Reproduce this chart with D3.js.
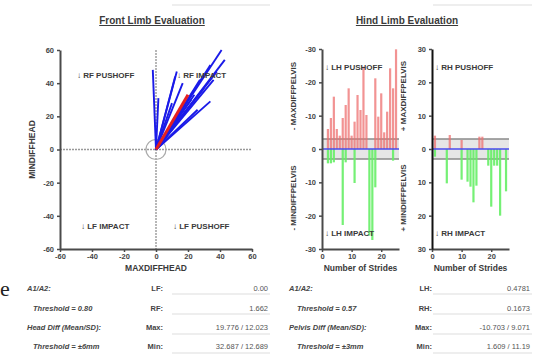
<!DOCTYPE html>
<html><head><meta charset="utf-8">
<script src="https://cdn.jsdelivr.net/npm/d3@7"></script>
<style>
html,body{margin:0;padding:0;background:#fff;}
svg{display:block;font-family:"Liberation Sans",Arial,sans-serif;}
</style></head>
<body>
<svg id="c" width="553" height="359"></svg>
<script>
// ---- Front limb data (end points of vectors from origin) ----
const frontX = [-2, 1.5, 13, 16.7, 41, 43, 34, 27.5, 34, 26, 38, 22, 30, 18, 10, 12, 24, 36];
const frontY = [48, 31, 47, 40, 60, 54, 51, 42, 29, 24, 47, 30, 37, 22, 28, 44, 33, 42];
const frontMeanX = [20];
const frontMeanY = [33];
const frontTicks = [-60, -40, -20, 0, 20, 40, 60];

// ---- Hind limb data (per stride) ----
const strides = d3.range(1, 26);
const lhPushoff = [0, 6, 9.3, 15.7, 6, 4, 9.3, 13.2, 18.2, 4, 8.2, 16.2, 11.7, 24.7, 10.2, 0, 0, 21.2, 9.7, 16.7, 5, 11.2, 24.2, 18.2, 29.9];
const lhImpact  = [0, 4.3, 4.3, 4, 0, 0, 22.8, 4, 0, 0, 10.2, 0, 0, 0, 0, 26, 27.3, 11.5, 0, 0, 0, 0, 0, 3.5, 0];
const rhPushoff = [4, 0, 0, 0, 0, 4.2, 0, 0, 0, 2.7, 0, 0, 0, 0, 0, 3.7, 3.7, 0, 0, 0, 0, 0, 0, 0, 0];
const rhImpact  = [2.3, 0, 0, 0, 10.3, 0, 0, 0, 0, 9.2, 0, 9.8, 11.3, 16, 11, 0, 0, 0, 5, 17.3, 5, 5, 20, 0, 12.7];
const hindTicks = [-30, -20, -10, 0, 10, 20, 30];
const strideTicks = [0, 10, 20];
const threshold = 3;

// ---- Table text ----
const leftRowsL = ["A1/A2:", "Threshold = 0.80", "Head Diff (Mean/SD):", "Threshold = \u00b16mm"];
const leftKeys = ["LF:", "RF:", "Max:", "Min:"];
const leftVals = ["0.00", "1.662", "19.776 / 12.023", "32.687 / 12.689"];
const rightRowsL = ["A1/A2:", "Threshold = 0.57", "Pelvis Diff (Mean/SD):", "Threshold = \u00b13mm"];
const rightKeys = ["LH:", "RH:", "Max:", "Min:"];
const rightVals = ["0.4781", "0.1673", "-10.703 / 9.071", "1.609 / 11.19"];

const svg = d3.select("#c");
const txt = "#3a3a3a";

// faint top remnants
svg.append("line").attr("x1",172).attr("x2",270).attr("y1",5).attr("y2",5).attr("stroke","#eee").attr("stroke-width",2);
svg.append("line").attr("x1",433).attr("x2",532).attr("y1",5).attr("y2",5).attr("stroke","#eee").attr("stroke-width",2);

function styleAxis(g){
  g.select(".domain").attr("stroke","#4a4a4a").attr("stroke-width",2);
  g.selectAll(".tick line").attr("stroke","#4a4a4a").attr("stroke-width",1.5);
  g.selectAll(".tick text").attr("fill","#444").attr("font-size","7.5px").attr("font-weight","bold");
}
const hy = d => String(d);

// ================= FRONT LIMB =================
const xF = d3.scaleLinear().domain([-60,60]).range([60,252]);
const yF = d3.scaleLinear().domain([-60,60]).range([249,50]);

svg.append("text").attr("x",152).attr("y",24).attr("text-anchor","middle")
  .attr("font-size","10px").attr("font-weight","bold").attr("fill",txt)
  .attr("text-decoration","underline").text("Front Limb Evaluation");

// zero lines
svg.append("line").attr("x1",xF(0)).attr("x2",xF(0)).attr("y1",yF(60)).attr("y2",yF(-60))
  .attr("stroke","#888").attr("stroke-width",1.2).attr("stroke-dasharray","2,1");
svg.append("line").attr("x1",xF(-60)).attr("x2",xF(60)).attr("y1",yF(0)).attr("y2",yF(0))
  .attr("stroke","#999").attr("stroke-width",1.6).attr("stroke-dasharray","2,1");

// circle
svg.append("circle").attr("cx",xF(0)).attr("cy",yF(0)).attr("r",10)
  .attr("fill","none").attr("stroke","#aaa").attr("stroke-width",1.2);

// vectors
svg.append("g").selectAll("line").data(frontX).join("line")
  .attr("x1",xF(0)).attr("y1",yF(0))
  .attr("x2",(d)=>xF(d)).attr("y2",(d,i)=>yF(frontY[i]))
  .attr("stroke","#1a1ae8").attr("stroke-width",1.9);
svg.append("g").selectAll("line").data(frontMeanX).join("line")
  .attr("x1",xF(0)).attr("y1",yF(0))
  .attr("x2",(d)=>xF(d)).attr("y2",(d,i)=>yF(frontMeanY[i]))
  .attr("stroke","#e52020").attr("stroke-width",3);

// axes
const gFx = svg.append("g").attr("transform",`translate(0,${yF(-60)})`)
  .call(d3.axisBottom(xF).tickValues(frontTicks).tickFormat(hy).tickSize(3).tickPadding(2).tickSizeOuter(0));
styleAxis(gFx);
const gFy = svg.append("g").attr("transform",`translate(${xF(-60)},0)`)
  .call(d3.axisLeft(yF).tickValues(frontTicks).tickFormat(hy).tickSize(3).tickPadding(3).tickSizeOuter(0));
styleAxis(gFy);

svg.append("text").attr("x",156).attr("y",271).attr("text-anchor","middle")
  .attr("font-size","8.5px").attr("font-weight","bold").attr("fill",txt).text("MAXDIFFHEAD");
svg.append("text").attr("transform",`translate(35,${yF(0)}) rotate(-90)`).attr("text-anchor","middle")
  .attr("font-size","8.5px").attr("font-weight","bold").attr("fill",txt).text("MINDIFFHEAD");

const fq = [["\u2193 RF PUSHOFF",77,78],["\u2193 RF IMPACT",177,78],["\u2193 LF IMPACT",81,229],["\u2193 LF PUSHOFF",173,229]];
svg.append("g").selectAll("text").data(fq).join("text")
  .attr("x",d=>d[1]).attr("y",d=>d[2]).attr("font-size","8px").attr("font-weight","bold")
  .attr("fill",txt).text(d=>d[0]);

// ================= HIND LIMB =================
svg.append("text").attr("x",407).attr("y",24).attr("text-anchor","middle")
  .attr("font-size","10px").attr("font-weight","bold").attr("fill",txt)
  .attr("text-decoration","underline").text("Hind Limb Evaluation");

const yH = d3.scaleLinear().domain([-30,30]).range([249,49]);

function hindPanel(x0, push, imp, fmt, pfx, side){
  const xS = d3.scaleLinear().domain([0,26]).range([x0, x0+77]);
  // threshold band
  svg.append("rect").attr("x",xS(0)).attr("width",xS(26)-xS(0))
    .attr("y",yH(threshold)).attr("height",yH(-threshold)-yH(threshold)).attr("fill","#e6e6e6");
  [threshold,-threshold].forEach(t=>svg.append("line").attr("x1",xS(0)).attr("x2",xS(26))
    .attr("y1",yH(t)).attr("y2",yH(t)).attr("stroke","#8a8a8a").attr("stroke-width",1.3));
  // bars
  svg.append("g").selectAll("rect").data(strides.filter((s,i)=>push[i]>0)).join("rect")
    .attr("x",s=>xS(s)-1.1).attr("width",2.2)
    .attr("y",s=>yH(push[s-1])).attr("height",s=>yH(0)-yH(push[s-1]))
    .attr("fill","#ee6f6f").attr("fill-opacity",0.75);
  svg.append("g").selectAll("rect").data(strides.filter((s,i)=>imp[i]>0)).join("rect")
    .attr("x",s=>xS(s)-1.1).attr("width",2.2)
    .attr("y",yH(0)).attr("height",s=>yH(-imp[s-1])-yH(0))
    .attr("fill","#66ee66").attr("fill-opacity",0.9);
  // zero line
  svg.append("line").attr("x1",xS(0)).attr("x2",xS(26)).attr("y1",yH(0)).attr("y2",yH(0))
    .attr("stroke","#4a4aee").attr("stroke-width",1.3);
  // axes
  const gx = svg.append("g").attr("transform",`translate(0,${yH(-30)})`)
    .call(d3.axisBottom(xS).tickValues(strideTicks).tickSize(3).tickPadding(2).tickSizeOuter(0));
  styleAxis(gx);
  const gy = svg.append("g").attr("transform",`translate(${xS(0)},0)`)
    .call(d3.axisLeft(yH).tickValues(hindTicks).tickFormat(fmt).tickSize(3).tickPadding(3).tickSizeOuter(0));
  styleAxis(gy);
  gy.select(".domain").attr("stroke", side==="R" ? "#111" : "#4a4a4a");
  svg.append("text").attr("x",xS(13)).attr("y",271).attr("text-anchor","middle")
    .attr("font-size","8.5px").attr("font-weight","bold").attr("fill",txt).text("Number of Strides");
  const lx = x0 - 26;
  svg.append("text").attr("transform",`translate(${lx},96) rotate(-90)`).attr("text-anchor","middle")
    .attr("font-size","8px").attr("font-weight","bold").attr("fill",txt).text(pfx+" MAXDIFFPELVIS");
  svg.append("text").attr("transform",`translate(${lx},198) rotate(-90)`).attr("text-anchor","middle")
    .attr("font-size","8px").attr("font-weight","bold").attr("fill",txt).text(pfx+" MINDIFFPELVIS");
  svg.append("text").attr("x",x0+3).attr("y",70).attr("font-size","8px").attr("font-weight","bold")
    .attr("fill",txt).text("\u2193 "+side+"H PUSHOFF");
  svg.append("text").attr("x",x0+3).attr("y",236).attr("font-size","8px").attr("font-weight","bold")
    .attr("fill",txt).text("\u2193 "+side+"H IMPACT");
}
hindPanel(322, lhPushoff, lhImpact, d=> d===0 ? "0" : "-"+Math.abs(d), "-", "L");
hindPanel(432, rhPushoff, rhImpact, d=> String(Math.abs(d)), "+", "R");

// ================= TABLES =================
svg.append("text").attr("x",0).attr("y",296).attr("font-family","'Liberation Serif','DejaVu Serif',serif")
  .attr("font-size","22px").attr("fill","#222").text("e");

const rowY = [290.5, 310.5, 329.5, 348.5];
const lineY = [294, 314, 334, 353];
function table(x0, indent, keyX, lineX0, lineX1, lbl, keys, vals){
  lbl.forEach((t,i)=>svg.append("text").attr("x", i%2===1 ? x0+indent : x0).attr("y",rowY[i])
    .attr("font-size","7.5px").attr("font-style","italic").attr("font-weight","bold").attr("fill","#444").text(t));
  keys.forEach((t,i)=>svg.append("text").attr("x",keyX).attr("y",rowY[i]).attr("text-anchor","end")
    .attr("font-size","7.5px").attr("font-weight","bold").attr("fill","#444").text(t));
  vals.forEach((t,i)=>svg.append("text").attr("x",lineX1-2).attr("y",rowY[i]).attr("text-anchor","end")
    .attr("font-size","7.5px").attr("fill","#555").text(t));
  lineY.forEach(y=>svg.append("line").attr("x1",lineX0).attr("x2",lineX1).attr("y1",y).attr("y2",y)
    .attr("stroke","#ddd").attr("stroke-width",1));
}
table(27, 6, 163, 172, 270, leftRowsL, leftKeys, leftVals);
table(289, 8, 432, 433, 532, rightRowsL, rightKeys, rightVals);
</script>
</body></html>
